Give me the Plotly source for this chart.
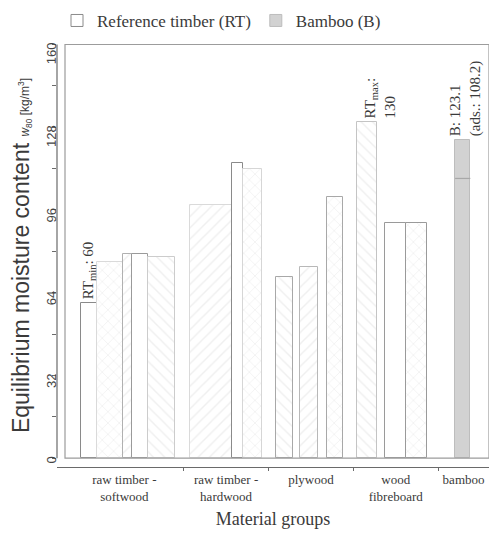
import plotly.graph_objects as go

# ---- data -------------------------------------------------------------
groups = ["raw timber -<br>softwood", "raw timber -<br>hardwood", "plywood",
          "wood<br>fibreboard", "bamboo"]
group_slots = [14, 10, 10, 10, 6]          # horizontal room given to each group

# equilibrium moisture content w80 [kg/m3] of the reference timber products
rt_w80 = [60, 76, 79, 79, 78, 98, 114, 112, 70, 74, 101, 130, 91, 91]
bamboo_w80 = 123.1
bamboo_ads = 108.2
rt_min = 60
rt_max = 130

y_major = [0, 32, 64, 96, 128, 160]
y_minor = [16, 48, 80, 112, 144]

# ---- bar placement (slot units) and styling ---------------------------
rt_start = [1.9, 3.8, 6.85, 7.9, 9.8, 14.75, 19.7, 21.0, 24.9, 27.7, 30.9, 34.4, 37.7, 40.2]
rt_span = [1.9, 3.05, 1.05, 1.9, 3.15, 4.95, 1.3, 2.2, 2.0, 2.1, 1.9, 2.4, 2.5, 2.5]
rt_line = ["#8a8a8a", "#dadada", "#b0b0b0", "#9a9a9a", "#cccccc", "#dadada", "#8a8a8a",
           "#d6d6d6", "#a8a8a8", "#b8b8b8", "#a8a8a8", "#c4c4c4", "#9a9a9a", "#9a9a9a"]
rt_hatch = ["", "x", "/", "", "\\", "/", "", "x", "\\", "/", "x", "\\", "", "x"]
bamboo_start, bamboo_span = 46.0, 1.8

serif = "Liberation Serif"
sans = "Liberation Sans"
ink = "#3a3a3a"

n_slots = sum(group_slots)
bounds = [sum(group_slots[:i + 1]) for i in range(len(group_slots) - 1)]
centers = [sum(group_slots[:i]) + group_slots[i] / 2 for i in range(len(group_slots))]

rt_x = [s + w / 2 for s, w in zip(rt_start, rt_span)]
bamboo_x = bamboo_start + bamboo_span / 2

fig = go.Figure()

fig.add_trace(go.Bar(
    x=rt_x, y=rt_w80, width=rt_span,
    name="Reference timber (RT)",
    marker=dict(
        color="white",
        line=dict(color=rt_line, width=1),
        pattern=dict(shape=rt_hatch, fgcolor="#e0e0e0", bgcolor="white",
                     size=8, solidity=0.18),
    ),
))

fig.add_trace(go.Bar(
    x=[bamboo_x], y=[bamboo_w80], width=[bamboo_span],
    name="Bamboo (B)",
    marker=dict(color="#d2d2d2", line=dict(color="#bdbdbd", width=1)),
))

# adsorption value drawn across the bamboo bar
fig.add_trace(go.Scatter(
    x=[bamboo_start, bamboo_start + bamboo_span], y=[bamboo_ads, bamboo_ads],
    mode="lines", line=dict(color="#a8a8a8", width=1.2),
    showlegend=False, hoverinfo="skip",
))

# value labels
rt_min_i = rt_w80.index(rt_min)
rt_max_i = rt_w80.index(rt_max)
fig.add_annotation(
    x=rt_x[rt_min_i], y=rt_min, text=f"RT<sub>min</sub>: {rt_min}",
    textangle=-90, showarrow=False, yanchor="bottom", yshift=2,
    font=dict(family=serif, size=15, color=ink),
)
fig.add_annotation(
    x=rt_x[rt_max_i], y=rt_max, text=f"RT<sub>max</sub>:<br>{rt_max}",
    textangle=-90, showarrow=False, yanchor="bottom", xanchor="center", xshift=13,
    align="left", yshift=2,
    font=dict(family=serif, size=15, color=ink),
)
fig.add_annotation(
    x=bamboo_x, y=bamboo_w80, text=f"B: {bamboo_w80}<br>(ads.: {bamboo_ads})",
    textangle=-90, showarrow=False, yanchor="bottom", xshift=3,
    align="left", yshift=2,
    font=dict(family=serif, size=15, color=ink),
)

# plot frame and left axis line
fig.add_shape(type="rect", xref="x", yref="y", x0=0, x1=n_slots, y0=0, y1=y_major[-1],
              line=dict(color="#9c9c9c", width=1.2), layer="above")
fig.add_shape(type="line", xref="paper", yref="y", x0=0, x1=0, y0=0, y1=y_major[-1],
              line=dict(color="#6a6a6a", width=1.2))

fig.update_layout(
    width=492, height=534,
    margin=dict(l=57, r=3, t=35, b=67),
    paper_bgcolor="white", plot_bgcolor="white",
    barmode="overlay",
    bargap=0,
    legend=dict(orientation="h", x=0.0, xanchor="left", y=1.012, yanchor="bottom",
                font=dict(family=serif, size=17, color=ink), itemwidth=30,
                traceorder="normal"),
    xaxis=dict(
        range=[-8 / 424 * n_slots, n_slots],
        tickmode="array", tickvals=centers, ticktext=groups,
        ticks="", showgrid=False, zeroline=False,
        showline=True, linecolor="#6a6a6a", linewidth=1.2,
        tickfont=dict(family=serif, size=13, color=ink),
        minor=dict(tickmode="array", tickvals=bounds, ticks="outside",
                   ticklen=3, tickcolor="#6a6a6a", showgrid=False),
        title=dict(text="Material groups", font=dict(family=serif, size=18, color=ink),
                   standoff=9),
    ),
    yaxis=dict(
        range=[-3.4, 160.2],
        tickmode="array", tickvals=y_major,
        ticks="outside", ticklen=4, tickcolor="#6a6a6a",
        tickangle=-89.9, showgrid=False, zeroline=False, showline=False,
        tickfont=dict(family=sans, size=13, color="#444"),
        minor=dict(tickmode="array", tickvals=y_minor, ticks="outside",
                   ticklen=4, tickcolor="#6a6a6a", showgrid=False),
        title=dict(
            text="Equilibrium moisture content "
                 "<span style='font-size:12px'><i>w</i><sub>80</sub> [kg/m<sup>3</sup>]</span>",
            font=dict(family=sans, size=23, color=ink), standoff=7),
    ),
)

fig.write_html("out.html")
